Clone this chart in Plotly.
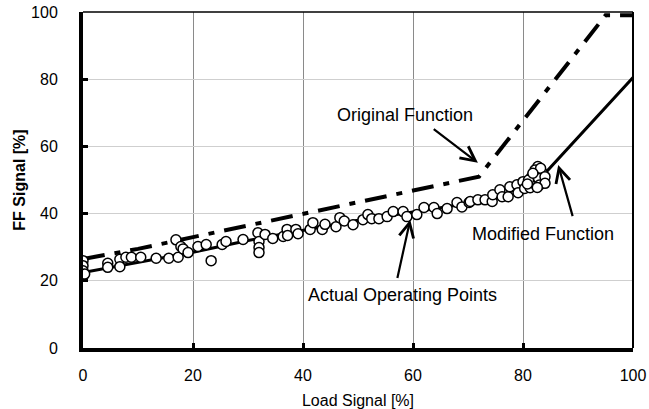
import plotly.graph_objects as go

# Original function (dash-dot)
orig_x = [0, 10, 20, 30, 40, 50, 60, 72, 95, 100]
orig_y = [26.5, 29.5, 33, 36.5, 40, 43.5, 47, 51, 99, 99]

# Modified function (solid)
mod_x = [0, 10, 20, 30, 40, 50, 60, 70, 76, 80, 84, 100]
mod_y = [22.5, 25.5, 28.5, 32, 35, 38, 40.5, 43, 45.5, 48, 52, 80.5]

# Actual operating points
pts_x = [0, 0, 0, 0.3, 4.5, 4.5, 6.7, 6.7, 7.8, 8.8, 10.5, 13.3, 15.6, 17.3,
         16.9, 17.8, 18.2, 19.1, 20.9, 22.4, 23.3, 25.3, 26, 29.1, 31.8, 32,
         32, 32, 33.1, 34.5, 36.4, 37.1, 37.2, 38.7, 39.1, 41.3, 41.8, 43.5,
         44, 46, 46.7, 47.5, 49.1, 50.9, 51.8, 52.5, 53.8, 55.3, 56.4, 58.2,
         58.9, 60.7, 62, 63.8, 64.4, 66.2, 68, 68.9, 70.2, 70.4, 71.8, 73.1,
         74.4, 74.5, 75.8, 76.2, 77.3, 77.6, 78.9, 79.1, 80, 80.3, 81.3, 81.6,
         82.5, 82.7, 83.5, 83.6, 82, 82.8, 83, 81, 82.2, 83.2, 84, 84, 81.8,
         82.6, 80.8]
pts_y = [26, 24.5, 23, 22, 25.2, 24, 26.4, 24.2, 27, 27, 27, 26.7, 26.7, 27,
         32.2, 30.2, 29.5, 28.4, 30.2, 30.8, 26, 30.8, 31.7, 32.3, 34.3, 31.7,
         29.9, 28.4, 33.8, 32.6, 33.2, 35.3, 33.5, 35.3, 34, 35.3, 37.3, 35.3,
         36.8, 36.1, 38.8, 37.8, 36.7, 38.2, 39.7, 38.5, 38.5, 39.1, 40.6, 40.6,
         39.1, 39.7, 41.8, 41.8, 40, 41.5, 43.3, 42, 43.3, 43.6, 44.1, 44.1,
         43.6, 45.6, 47.1, 45, 45, 48, 48.6, 46.2, 49.5, 47.5, 47.7, 51,
         52.4, 54, 52.1, 50, 49, 50.5, 48.5, 50, 53, 53.5, 51, 49, 52,
         47.8, 48.8]

x_ticks = [0, 20, 40, 60, 80, 100]
y_ticks = [0, 20, 40, 60, 80, 100]

FONT = "Liberation Sans, Arial, sans-serif"

fig = go.Figure()
fig.add_trace(go.Scatter(x=orig_x, y=orig_y, mode="lines",
                         line=dict(color="black", width=4, dash="22px,10px,6px,10px"),
                         showlegend=False))
fig.add_trace(go.Scatter(x=mod_x, y=mod_y, mode="lines",
                         line=dict(color="black", width=3),
                         showlegend=False))
fig.add_trace(go.Scatter(x=pts_x, y=pts_y, mode="markers",
                         marker=dict(symbol="circle", size=10, color="white",
                                     line=dict(color="black", width=1.5)),
                         showlegend=False))

fig.update_xaxes(range=[0, 100], tickvals=x_ticks, ticktext=[str(v) for v in x_ticks],
                 automargin=False,
                 showgrid=True, gridcolor="#8a8a8a", gridwidth=1,
                 showline=True, linecolor="black", linewidth=4,
                 ticks="inside", ticklen=5, tickwidth=3, tickcolor="black",
                 ticklabelstandoff=10, zeroline=False,
                 tickfont=dict(family=FONT, size=16, color="black"),
                 title=dict(text="Load Signal [%]", standoff=14,
                            font=dict(family=FONT, size=16, color="black")))
fig.update_yaxes(range=[0, 100], tickvals=y_ticks, ticktext=[str(v) for v in y_ticks],
                 automargin=False,
                 showgrid=True, gridcolor="#cfcfcf", gridwidth=1,
                 showline=True, linecolor="black", linewidth=4,
                 ticks="inside", ticklen=5, tickwidth=3, tickcolor="black",
                 ticklabelstandoff=18, zeroline=False,
                 tickfont=dict(family=FONT, size=16, color="black"),
                 title=dict(text="<b>FF Signal [%]</b>", standoff=2,
                            font=dict(family=FONT, size=16, color="black")))

# thin top and right border
fig.add_shape(type="line", xref="paper", yref="paper", x0=0, x1=1, y0=1, y1=1,
              line=dict(color="black", width=1.5))
fig.add_shape(type="line", xref="paper", yref="paper", x0=1, x1=1, y0=0, y1=1,
              line=dict(color="black", width=2))

ann_font = dict(family=FONT, size=18, color="black")
arrows = [
    dict(x=71.8, y=55.1, ax=63.5, ay=65.5),
    dict(x=86.4, y=54.5, ax=89.1, ay=38.8),
    dict(x=59.5, y=38.2, ax=57.1, ay=20.4),
]
for a in arrows:
    fig.add_annotation(x=a["x"], y=a["y"], ax=a["ax"], ay=a["ay"],
                       xref="x", yref="y", axref="x", ayref="y",
                       text="", showarrow=True, arrowhead=5, arrowsize=1.3,
                       arrowwidth=2.2, arrowcolor="black")

labels = [
    ("Original Function", 58.5, 69.3),
    ("Modified Function", 83.6, 33.8),
    ("Actual Operating Points", 58.0, 15.7),
]
for t, lx, ly in labels:
    fig.add_annotation(x=lx, y=ly, xref="x", yref="y", text=t, showarrow=False,
                       font=ann_font, xanchor="center", yanchor="middle")

fig.update_layout(width=649, height=409,
                  margin=dict(l=83, r=16, t=12, b=61),
                  plot_bgcolor="white", paper_bgcolor="white",
                  font=dict(family=FONT))

fig.write_html("out.html")
